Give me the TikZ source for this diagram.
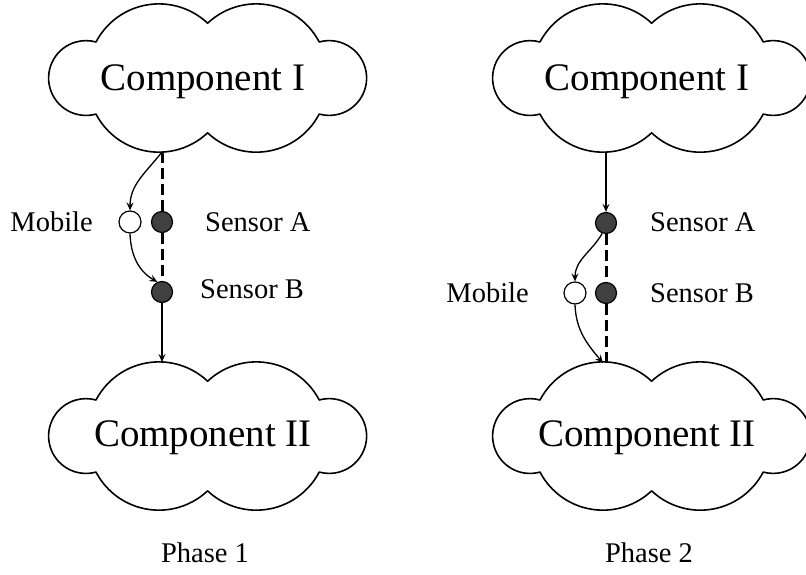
\documentclass[tikz,border=0pt]{standalone}
\usepackage{fontspec}
\setmainfont{Liberation Serif}
\usetikzlibrary{arrows.meta}
\begin{document}
\begin{tikzpicture}[x=1pt,y=1pt,
  cloudline/.style={draw=black,line width=1.6pt,line join=round},
  bigtext/.style={font=\fontsize{39}{39}\selectfont,anchor=base,inner sep=0pt},
  labeltext/.style={font=\fontsize{28.5}{28.5}\selectfont,inner sep=0pt},
  sensor/.style={circle,draw=black,fill=black!75,line width=1.2pt,minimum size=21pt,inner sep=0pt},
  mobilenode/.style={circle,draw=black,fill=white,line width=1.2pt,minimum size=22pt,inner sep=0pt},
  arr/.style={line width=1.3pt,-{Stealth[length=8pt,width=7pt,inset=3pt]}},
  dashline/.style={line width=3pt,dash pattern=on 11pt off 5pt},
  cloudpic/.pic={
    \draw[cloudline] (-112,36)
      arc[start angle=152.4,end angle=46.7,radius=71]
      arc[start angle=133.3,end angle=27.6,radius=71]
      arc[start angle=105.5,end angle=-105.5,radius=37.4]
      arc[start angle=-27.6,end angle=-133.3,radius=71]
      arc[start angle=-46.7,end angle=-152.4,radius=71]
      arc[start angle=-74.5,end angle=-285.5,radius=37.4] -- cycle;
  }]
\clip (0,0) rectangle (806,575);
\fill[white] (0,0) rectangle (806,575);

% clouds
\pic at (208,497) {cloudpic};
\pic at (208,139) {cloudpic};
\pic at (652,497) {cloudpic};
\pic at (652,139) {cloudpic};

\node[bigtext] (c1a) at (203,484) {Component I};
\node[bigtext] (c2a) at (203,128) {Component II};
\node[bigtext] (c1b) at (647,484) {Component I};
\node[bigtext] (c2b) at (647,128) {Component II};

% cloud boundary points
\coordinate (p1top) at (162,423);
\coordinate (p1bot) at (162,213);
\coordinate (p2top) at (606,423);
\coordinate (p2bot) at (606,213);
\coordinate (p2botm) at (603,212);

% Phase 1
\node[sensor] (sA1) at (162,353) {};
\node[mobilenode] (m1) at (130,353) {};
\node[sensor] (sB1) at (162,283) {};
\node[labeltext,anchor=base east] (lm1) at (93,343) {Mobile};
\node[labeltext,anchor=base west] (lsA1) at (205,343) {Sensor A};
\node[labeltext,anchor=base west] (lsB1) at (200,276) {Sensor B};
\node[labeltext,anchor=base] (ph1) at (205,12) {Phase 1};

\draw[dashline] (p1top) -- (sA1.north);
\draw[dashline] (sA1.south) -- (sB1.north);
\draw[arr] (p1top) to[out=232,in=90] (m1.north);
\draw[arr] (m1.south) to[out=-88,in=150] (sB1.115);
\draw[arr] (sB1.south) -- (p1bot);

% Phase 2
\node[sensor] (sA2) at (606,352) {};
\node[sensor] (sB2) at (606,282) {};
\node[mobilenode] (m2) at (575,282) {};
\node[labeltext,anchor=base west] (lsA2) at (650,343) {Sensor A};
\node[labeltext,anchor=base west] (lsB2) at (650,272) {Sensor B};
\node[labeltext,anchor=base east] (lm2) at (529,272) {Mobile};
\node[labeltext,anchor=base] (ph2) at (649,12) {Phase 2};

\draw[arr] (p2top) -- (sA2.north);
\draw[dashline] (sA2.south) -- (sB2.north);
\draw[dashline] (sB2.south) -- (p2bot);
\draw[arr] (sA2.250) to[out=240,in=90] (m2.north);
\draw[arr] (m2.south) to[out=-88,in=130] (p2botm);
\end{tikzpicture}
\end{document}
